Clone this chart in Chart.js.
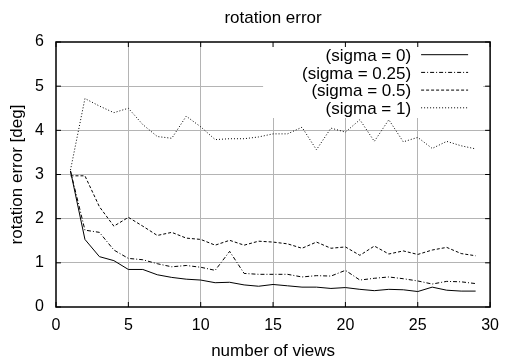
<!DOCTYPE html>
<html>
<head>
<meta charset="utf-8">
<script src="https://cdn.jsdelivr.net/npm/chart.js@4"></script>
<style>
body { margin: 0; background: #fff; }
</style>
</head>
<body>
<canvas id="myChart" width="508" height="360"></canvas>
<script>
'use strict';
// data
const views = [1, 2, 3, 4, 5, 6, 7, 8, 9, 10, 11, 12, 13, 14, 15, 16, 17, 18, 19, 20, 21, 22, 23, 24, 25, 26, 27, 28, 29];
const sigma0 = [3.08, 1.53, 1.14, 1.05, 0.85, 0.85, 0.73, 0.67, 0.63, 0.61, 0.55, 0.56, 0.5, 0.47, 0.51,
    0.48, 0.45, 0.45, 0.42, 0.44, 0.4, 0.37, 0.4, 0.39, 0.35, 0.45, 0.38, 0.36, 0.36];
const sigma025 = [3.08, 1.74, 1.69, 1.29, 1.1, 1.07, 0.98, 0.91, 0.94, 0.9, 0.83, 1.26, 0.76, 0.74, 0.74,
    0.74, 0.68, 0.71, 0.7, 0.83, 0.61, 0.65, 0.68, 0.64, 0.59, 0.52, 0.58, 0.57, 0.53];
const sigma05 = [2.97, 2.97, 2.27, 1.83, 2.03, 1.83, 1.62, 1.69, 1.56, 1.53, 1.4, 1.51, 1.4, 1.49, 1.47,
    1.43, 1.33, 1.47, 1.33, 1.36, 1.17, 1.38, 1.2, 1.27, 1.19, 1.29, 1.35, 1.21, 1.16];
const sigma1 = [3.1, 4.72, 4.55, 4.4, 4.5, 4.13, 3.86, 3.82, 4.32, 4.08, 3.79, 3.81, 3.81, 3.85, 3.92,
    3.92, 4.07, 3.56, 4.05, 3.96, 4.24, 3.75, 4.24, 3.74, 3.84, 3.59, 3.75, 3.65, 3.58];
const seriesLabels = ['(sigma = 0)', '(sigma = 0.25)', '(sigma = 0.5)', '(sigma = 1)'];
const seriesDash = [[], [4, 2, 1, 2], [3, 2], [1, 2]];

const FONT = 'Liberation Sans, Arial, sans-serif';

const toPoints = values => values.map((v, i) => ({ x: views[i], y: v }));

// gnuplot style key + border + inner tics
const gnuplotKey = {
    id: 'gnuplotKey',
    beforeDatasetsDraw(chart) {
        const { ctx, chartArea } = chart;
        ctx.save();
        ctx.fillStyle = '#fff';
        ctx.fillRect(chartArea.right - 227, chartArea.top, 220, 76);
        ctx.restore();
    },
    afterDatasetsDraw(chart) {
        const { ctx, chartArea, scales } = chart;
        ctx.save();
        // key
        ctx.font = `17px ${FONT}`;
        ctx.textAlign = 'right';
        ctx.textBaseline = 'middle';
        chart.data.datasets.forEach((ds, i) => {
            const y = chartArea.top + 12.7 + i * 17.7;
            ctx.fillStyle = '#000';
            ctx.fillText(ds.label, chartArea.right - 79, y + 1.5);
            ctx.beginPath();
            ctx.setLineDash(ds.borderDash);
            ctx.strokeStyle = '#000';
            ctx.lineWidth = 1;
            ctx.moveTo(chartArea.right - 69, y);
            ctx.lineTo(chartArea.right - 22, y);
            ctx.stroke();
        });
        ctx.setLineDash([]);
        // tics
        ctx.strokeStyle = '#000';
        ctx.lineWidth = 1;
        ctx.beginPath();
        scales.x.ticks.forEach(t => {
            const px = scales.x.getPixelForValue(t.value);
            ctx.moveTo(px, chartArea.bottom);
            ctx.lineTo(px, chartArea.bottom - 5);
            ctx.moveTo(px, chartArea.top);
            ctx.lineTo(px, chartArea.top + 5);
        });
        scales.y.ticks.forEach(t => {
            const py = scales.y.getPixelForValue(t.value);
            ctx.moveTo(chartArea.left, py);
            ctx.lineTo(chartArea.left + 5, py);
            ctx.moveTo(chartArea.right, py);
            ctx.lineTo(chartArea.right - 5, py);
        });
        ctx.stroke();
        // border
        ctx.lineWidth = 1.5;
        ctx.strokeRect(chartArea.left, chartArea.top, chartArea.right - chartArea.left, chartArea.bottom - chartArea.top);
        ctx.restore();
    }
};

const ctx = document.getElementById('myChart');
const myChart = new Chart(ctx.getContext('2d'), {
    type: 'line',
    data: {
        datasets: [sigma0, sigma025, sigma05, sigma1].map((values, i) => ({
            label: seriesLabels[i],
            data: toPoints(values),
            borderColor: '#000',
            borderWidth: 1,
            borderDash: seriesDash[i],
            pointRadius: 0,
            tension: 0,
            fill: false
        }))
    },
    options: {
        responsive: false,
        animation: false,
        layout: { padding: { left: 0, right: 11, top: 0, bottom: 0 } },
        plugins: {
            legend: { display: false },
            tooltip: { enabled: false },
            title: {
                display: true,
                text: 'rotation error',
                fullSize: false,
                color: '#000',
                font: { family: FONT, size: 17, weight: 'normal', lineHeight: 1 },
                padding: { top: 9.7, bottom: 15.3 }
            }
        },
        scales: {
            x: {
                type: 'linear',
                min: 0,
                max: 30,
                afterFit: scale => { scale.height = 53; },
                ticks: { stepSize: 5, color: '#000', padding: 9, font: { family: FONT, size: 16 } },
                grid: {
                    drawTicks: false,
                    color: c => (c.tick.value === 0 || c.tick.value === 30) ? 'rgba(0,0,0,0)' : '#b4b4b4'
                },
                border: { display: false },
                title: {
                    display: true,
                    text: 'number of views',
                    color: '#000',
                    font: { family: FONT, size: 17, lineHeight: 1 },
                    padding: { top: 0, bottom: 0 }
                }
            },
            y: {
                min: 0,
                max: 6,
                afterFit: scale => { scale.width = 56; },
                ticks: { stepSize: 1, color: '#000', padding: 12, font: { family: FONT, size: 16 } },
                grid: {
                    drawTicks: false,
                    color: c => (c.tick.value === 0 || c.tick.value === 6) ? 'rgba(0,0,0,0)' : '#b4b4b4'
                },
                border: { display: false },
                title: {
                    display: true,
                    text: 'rotation error [deg]',
                    color: '#000',
                    font: { family: FONT, size: 17, lineHeight: 1 },
                    padding: { top: 9, bottom: 0 }
                }
            }
        }
    },
    plugins: [gnuplotKey]
});
</script>
</body>
</html>
